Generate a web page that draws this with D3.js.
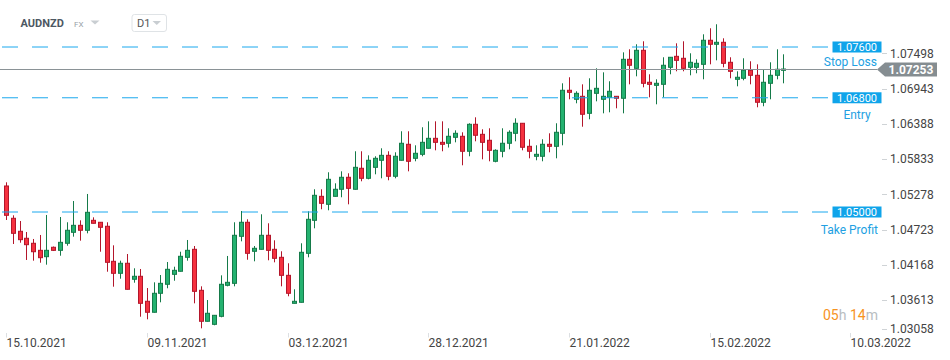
<!DOCTYPE html>
<html><head><meta charset="utf-8">
<script src="https://cdn.jsdelivr.net/npm/d3@7"></script>
<style>html,body{margin:0;padding:0;background:#fff;overflow:hidden}svg{display:block;font-family:Roboto,"Noto Sans",sans-serif}</style>
</head><body><svg id="chart" width="950" height="360"></svg>
<script>
const symbol = "AUDNZD", market = "FX", interval = "D1";
const opens = [1.05410,1.04901,1.04696,1.04586,1.04507,1.04396,1.04296,1.04444,1.04396,1.04507,
1.04680,1.04790,1.04712,1.04869,1.04838,1.04775,1.04223,1.04034,1.04192,1.03940,
1.03987,1.03593,1.03420,1.03719,1.03861,1.04018,1.04066,1.04286,1.04412,1.03766,
1.03278,1.03230,1.03356,1.03845,1.03876,1.04617,1.04838,1.04381,1.04412,1.04633,
1.04412,1.04286,1.04002,1.03561,1.03577,1.04349,1.04869,1.05247,1.05121,1.05247,
1.05358,1.05547,1.05358,1.05689,1.05531,1.05704,1.05815,1.05893,1.05563,1.05815,
1.06067,1.05846,1.05909,1.06004,1.06161,1.06098,1.06083,1.06177,1.06193,1.05957,
1.06382,1.06224,1.06130,1.05799,1.05957,1.06083,1.06240,1.06398,1.06035,1.05878,
1.05878,1.06067,1.06035,1.06240,1.06918,1.06776,1.06823,1.06555,1.06870,1.06776,
1.06807,1.06823,1.06792,1.07406,1.07264,1.07548,1.07044,1.06996,1.07012,1.07280,
1.07453,1.07422,1.07280,1.07280,1.07327,1.07706,1.07643,1.07674,1.07359,1.07091,
1.07107,1.07233,1.07154,1.06729,1.07028,1.07154,1.07233];
const highs = [1.05468,1.04948,1.04858,1.04685,1.04575,1.04638,1.04953,1.04456,1.04921,1.04838,
1.05173,1.04869,1.05284,1.04916,1.04842,1.04838,1.04475,1.04233,1.04338,1.04113,
1.04102,1.03802,1.03892,1.04007,1.04212,1.04138,1.04374,1.04559,1.04464,1.03829,
1.03613,1.03377,1.04002,1.04307,1.04838,1.05016,1.04885,1.04464,1.04964,1.04822,
1.04554,1.04381,1.04192,1.03782,1.04507,1.05011,1.05358,1.05358,1.05626,1.05452,
1.05641,1.05610,1.05957,1.05957,1.05893,1.05878,1.06004,1.05957,1.05941,1.06272,
1.06272,1.06051,1.06335,1.06429,1.06429,1.06429,1.06319,1.06287,1.06256,1.06398,
1.06492,1.06303,1.06319,1.05988,1.06319,1.06287,1.06476,1.06402,1.06146,1.06051,
1.06146,1.06240,1.06398,1.07028,1.07123,1.06902,1.07012,1.07107,1.07264,1.07201,
1.07060,1.06828,1.07516,1.07564,1.07643,1.07690,1.07170,1.07091,1.07438,1.07442,
1.07658,1.07690,1.07501,1.07406,1.07800,1.07895,1.07958,1.07737,1.07438,1.07217,
1.07422,1.07375,1.07327,1.07249,1.07359,1.07564,1.07485];
const lows = [1.04874,1.04496,1.04516,1.04244,1.04233,1.04201,1.04170,1.04385,1.04311,1.04469,
1.04611,1.04548,1.04664,1.04819,1.04374,1.04059,1.03823,1.03949,1.03779,1.03886,
1.03350,1.03309,1.03416,1.03577,1.03798,1.03917,1.04062,1.04233,1.03561,1.03167,
1.03274,1.03215,1.03341,1.03829,1.03829,1.04538,1.04248,1.04223,1.04409,1.04239,
1.04207,1.03829,1.03672,1.03558,1.03574,1.04286,1.04743,1.05043,1.05027,1.05244,
1.05232,1.05121,1.05354,1.05484,1.05515,1.05594,1.05531,1.05500,1.05531,1.05811,
1.05641,1.05799,1.05878,1.06001,1.05972,1.05957,1.06016,1.06098,1.05736,1.05878,
1.06114,1.05830,1.05799,1.05783,1.05862,1.05988,1.06114,1.05972,1.05846,1.05815,
1.05799,1.05941,1.05846,1.06051,1.06776,1.06713,1.06344,1.06461,1.06744,1.06555,
1.06571,1.06634,1.06555,1.07012,1.07138,1.06965,1.06807,1.06697,1.06807,1.07170,
1.07217,1.07217,1.07154,1.07186,1.07091,1.07327,1.07390,1.07280,1.07107,1.06981,
1.07075,1.07012,1.06650,1.06666,1.06776,1.07091,1.07028];
const closes = [1.04948,1.04664,1.04564,1.04485,1.04374,1.04280,1.04396,1.04396,1.04522,1.04712,
1.04790,1.04712,1.04995,1.04822,1.04759,1.04207,1.04034,1.04192,1.03782,1.03987,
1.03561,1.03420,1.03719,1.03876,1.04097,1.04081,1.04302,1.04396,1.03750,1.03278,
1.03404,1.03372,1.03861,1.03892,1.04633,1.04838,1.04349,1.04428,1.04633,1.04396,
1.04270,1.04002,1.03719,1.03593,1.04365,1.04885,1.05263,1.05137,1.05515,1.05358,
1.05547,1.05373,1.05704,1.05531,1.05815,1.05846,1.05893,1.05563,1.05878,1.06083,
1.05799,1.05925,1.06098,1.06161,1.06098,1.06067,1.06193,1.06240,1.05957,1.06382,
1.06209,1.06098,1.05972,1.05972,1.06083,1.06256,1.06398,1.06020,1.05957,1.05909,
1.06067,1.06035,1.06256,1.06918,1.06886,1.06870,1.06540,1.06918,1.06949,1.06823,
1.06902,1.06792,1.07406,1.07312,1.07548,1.07028,1.07012,1.07028,1.07312,1.07438,
1.07390,1.07264,1.07359,1.07343,1.07706,1.07643,1.07674,1.07343,1.07217,1.07123,
1.07233,1.07154,1.06729,1.07044,1.07154,1.07249,1.07253];

const yTickValues = [1.07498,1.06943,1.06388,1.05833,1.05278,1.04723,1.04168,1.03613,1.03058];
const xTickLabels = ["15.10.2021","09.11.2021","03.12.2021","28.12.2021","21.01.2022","15.02.2022","10.03.2022"];
const xTickIndex = [0,21,42,63,84,105,126];
const levelValues = [1.07600,1.06800,1.05000];
const levelNames = ["Stop Loss","Entry","Take Profit"];
const currentPrice = 1.07253;
const timerParts = [["05","h "],["14","m"]];

const nameStyle = {"Stop Loss":{anchor:"end",x:877,dy:19},"Entry":{anchor:"middle",x:857,dy:21.5},"Take Profit":{anchor:"end",x:878,dy:22}};

const svg = d3.select("#chart");
const n = closes.length;
const x = d3.scaleLinear().domain([0, 116]).range([6.2, 783.4]);
const y = d3.scaleLinear().domain([1.05, 1.076]).range([212, 47]);

const GREEN = "#24b270", GREEN_D = "#157a49", RED = "#f5313f", RED_D = "#b3162b";
const candles = d3.range(n).map(i => ({i, o: opens[i], h: highs[i], l: lows[i], c: closes[i]}));

const cg = svg.append("g");
const cx = d => Math.round(x(d.i)) + 0.5;
cg.selectAll("line.wick").data(candles).join("line")
  .attr("x1", cx).attr("x2", cx)
  .attr("y1", d => y(d.h)).attr("y2", d => y(d.l))
  .attr("stroke", d => d.c >= d.o ? GREEN_D : RED_D).attr("stroke-width", 1);
cg.selectAll("rect.body").data(candles).join("rect")
  .attr("x", d => cx(d) - 2).attr("width", 4)
  .attr("y", d => y(Math.max(d.o, d.c)))
  .attr("height", d => Math.max(1, Math.abs(y(d.o) - y(d.c))))
  .attr("fill", d => d.c >= d.o ? GREEN : RED)
  .attr("stroke", d => d.c >= d.o ? GREEN_D : RED_D).attr("stroke-width", 1);

// levels
const lg = svg.append("g");
levelValues.forEach((v, k) => {
  const yy = y(v);
  lg.append("line").attr("x1", 2).attr("x2", 828).attr("y1", yy).attr("y2", yy)
    .attr("stroke", "#1aa8ee").attr("stroke-width", 1).attr("stroke-dasharray", "16,14");
  lg.append("rect").attr("x", 832.5).attr("y", yy - 5.5).attr("width", 49).attr("height", 11).attr("fill", "#0fa4ea");
  lg.append("text").attr("x", 857).attr("y", yy + 4).attr("text-anchor", "middle")
    .attr("fill", "#fff").attr("font-size", 11).text(d3.format(".5f")(v));
  const st = nameStyle[levelNames[k]];
  lg.append("text").attr("x", st.x).attr("y", yy + st.dy).attr("text-anchor", st.anchor)
    .attr("fill", "#229fe2").attr("font-size", 12).text(levelNames[k]);
});

// current price line
const yc = Math.round(y(currentPrice)) + 0.5;
svg.append("line").attr("x1", 0).attr("x2", 877).attr("y1", yc).attr("y2", yc)
  .attr("stroke", "#8a9296").attr("stroke-width", 1);

// y axis ticks
const ya = svg.append("g");
yTickValues.forEach(v => {
  const yy = Math.min(y(v), 329);
  ya.append("line").attr("x1", 882).attr("x2", 887).attr("y1", Math.round(yy) + 0.5).attr("y2", Math.round(yy) + 0.5)
    .attr("stroke", "#cfd3d6");
  ya.append("text").attr("x", 890).attr("y", yy + 4.3).attr("fill", "#444").attr("font-size", 12).text(d3.format(".5f")(v));
});

// current price tag
svg.append("path")
  .attr("d", `M877,${yc} L885,${yc-7} L937,${yc-7} L937,${yc+7} L885,${yc+7} Z`)
  .attr("fill", "#858d91");
svg.append("text").attr("x", 911).attr("y", yc + 4.5).attr("text-anchor", "middle")
  .attr("fill", "#fff").attr("font-size", 12).attr("font-weight", "bold").text(d3.format(".5f")(currentPrice));

// x axis labels (left-aligned at tick)
const xa = svg.append("g");
xTickLabels.forEach((t, k) => {
  const tx = Math.round(x(xTickIndex[k])) + 0.5;
  xa.append("line").attr("x1", tx).attr("x2", tx).attr("y1", 333).attr("y2", 337.5)
    .attr("stroke", "#dcdfe2");
  xa.append("text").attr("x", tx).attr("y", 346.7).attr("text-anchor", "start")
    .attr("fill", "#444").attr("font-size", 12).text(t);
});

// timer
const tt = svg.append("text").attr("x", 823).attr("y", 319.5).attr("font-size", 14);
timerParts.forEach(p => {
  tt.append("tspan").attr("fill", "#f7931e").text(p[0]);
  tt.append("tspan").attr("fill", "#b8bdc1").text(p[1]);
});

// header
svg.append("text").attr("x", 20.5).attr("y", 27.3).attr("font-size", 11).attr("font-weight", "bold")
  .attr("fill", "#4d5863").text(symbol);
svg.append("text").attr("x", 74).attr("y", 27).attr("font-size", 8).attr("fill", "#98a1a7").text(market);
svg.append("path").attr("d", "M90.5,20.5 L99.5,20.5 L95,24.5 Z").attr("fill", "#c9ced2");
svg.append("rect").attr("x", 132).attr("y", 14.5).attr("width", 34.5).attr("height", 17).attr("rx", 2.5)
  .attr("fill", "#fff").attr("stroke", "#dfe3e6");
svg.append("text").attr("x", 137).attr("y", 27.3).attr("font-size", 11).attr("fill", "#555").text(interval);
svg.append("path").attr("d", "M152.5,21 L161,21 L156.75,25 Z").attr("fill", "#c9ced2");
</script></body></html>
